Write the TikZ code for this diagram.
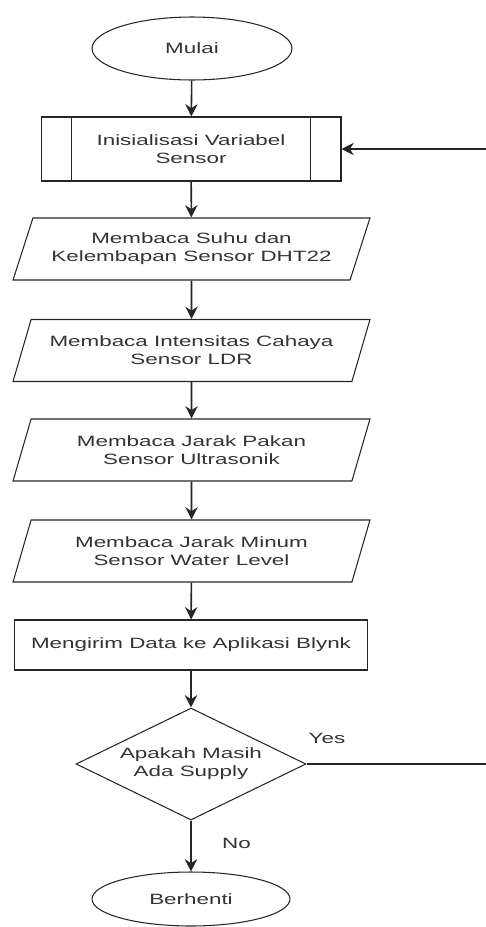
\documentclass[tikz,border=0pt]{standalone}
\usepackage{fontspec}
\setmainfont[FakeStretch=1.5]{Liberation Sans}
\usetikzlibrary{shapes.geometric,arrows.meta}

\tikzset{
  every node/.style={font=\fontsize{8.5}{10.2}\selectfont, text=black!80, align=center},
  terminal/.style={draw=black!85, ellipse, line width=0.6pt, inner sep=0pt},
  subproc/.style={draw=black!85, rectangle, line width=0.6pt, inner sep=0pt},
  iobox/.style={draw=black!85, trapezium, trapezium left angle=58, trapezium right angle=122,
    trapezium stretches body, line width=0.6pt, inner sep=0pt,
    minimum width=7.14cm, minimum height=1.24cm},
  choice/.style={draw=black!85, diamond, aspect=2.05, line width=0.6pt, inner sep=0pt},
  flow/.style={-{Stealth[length=7pt,width=7pt]}, line width=0.9pt, black!85}
}

\begin{document}
\begin{tikzpicture}[x=0.02cm, y=-0.02cm]
\useasboundingbox (0,0) rectangle (486,927);

%%%%%%%%%%
% Nodes
%%%%%%%%%%
\node[terminal, minimum width=4cm, minimum height=1.26cm] (mulai) at (192,48.5) {Mulai};
\node[subproc, minimum width=6cm, minimum height=1.28cm] (init) at (191,149) {Inisialisasi Variabel\\Sensor};
\draw[line width=0.6pt, black!85] ([xshift=0.62cm]init.north west) -- ([xshift=0.62cm]init.south west);
\draw[line width=0.6pt, black!85] ([xshift=-0.62cm]init.north east) -- ([xshift=-0.62cm]init.south east);
\node[iobox] (suhu) at (191.5,249) {Membaca Suhu dan\\Kelembapan Sensor DHT22};
\node[iobox] (ldr) at (191.5,350.5) {Membaca Intensitas Cahaya\\Sensor LDR};
\node[iobox] (pakan) at (191.5,450) {Membaca Jarak Pakan\\Sensor Ultrasonik};
\node[iobox] (minum) at (191.5,551) {Membaca Jarak Minum\\Sensor Water Level};
\node[subproc, minimum width=7.08cm, minimum height=1cm] (kirim) at (191,645) {Mengirim Data ke Aplikasi Blynk};
\node[choice, minimum width=4.6cm, minimum height=2.24cm] (supply) at (191,764) {Apakah Masih\\Ada Supply};
\node[terminal, minimum width=3.96cm, minimum height=1.08cm] (berhenti) at (191,899) {Berhenti};

% free ends at the right margin
\coordinate (balik) at (486,149);
\coordinate (ya) at (486,764);

%%%%%%%%%%
% Connectors
%%%%%%%%%%
\foreach \a/\b in {mulai/init, init/suhu, suhu/ldr, ldr/pakan, pakan/minum, minum/kirim, kirim/supply} {
\draw[flow] (\a) -- (\b);
}
\draw[flow] (supply) -- node[pos=0.45, right=14pt] {No} (berhenti);
\draw[line width=0.6pt, black!85] (supply.east) -- (ya);
\node (yes) at (327,738) {Yes};
\draw[flow, line width=0.6pt] (balik) -- (init.east);

\end{tikzpicture}
\end{document}
